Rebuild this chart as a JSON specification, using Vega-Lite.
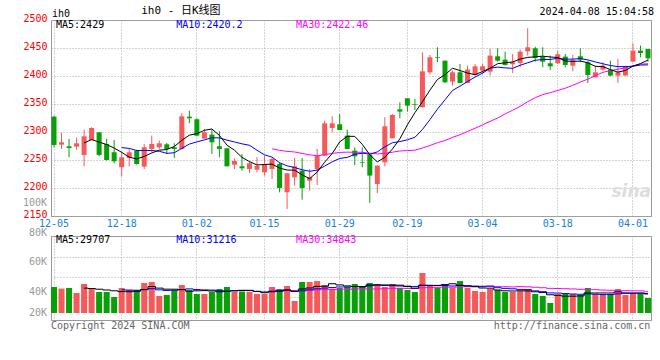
{
  "$schema": "https://vega.github.io/schema/vega-lite/v6.json",
  "autosize": {"type": "pad"},
  "padding": {"left": 22, "top": 4, "right": 0, "bottom": 0},
  "background": "#ffffff",
  "config": {
    "font": "DejaVu Sans Mono",
    "view": {"stroke": "#999999", "strokeWidth": 1},
    "axis": {"gridColor": "#aaaaaa", "gridDash": [1, 2], "gridWidth": 1, "labelFont": "DejaVu Sans Mono"}
  },
  "datasets": {
    "k": [
      {"d":"2023-12-05","o":2327.4,"h":2329,"l":2272.7,"c":2276.9,"v":40.8},
      {"d":"2023-12-06","o":2277.5,"h":2298.3,"l":2269.7,"c":2281.6,"v":38.2},
      {"d":"2023-12-07","o":2274.5,"h":2287.6,"l":2254.8,"c":2271.5,"v":39.2},
      {"d":"2023-12-08","o":2273.9,"h":2290,"l":2268,"c":2279.8,"v":31.3},
      {"d":"2023-12-11","o":2259,"h":2304.2,"l":2238.7,"c":2292.3,"v":45.5},
      {"d":"2023-12-12","o":2285.8,"h":2308.4,"l":2285,"c":2307.2,"v":37.6},
      {"d":"2023-12-13","o":2299.5,"h":2299.5,"l":2256.6,"c":2259,"v":32.9},
      {"d":"2023-12-14","o":2278.6,"h":2287.6,"l":2248.9,"c":2250,"v":32.9},
      {"d":"2023-12-15","o":2263.8,"h":2285.8,"l":2244.1,"c":2247.7,"v":25.1},
      {"d":"2023-12-18","o":2237,"h":2264.9,"l":2220.9,"c":2254.8,"v":39.2},
      {"d":"2023-12-19","o":2253.6,"h":2269.7,"l":2238.7,"c":2263.8,"v":36.5},
      {"d":"2023-12-20","o":2266.7,"h":2268.5,"l":2241.7,"c":2242.9,"v":36.1},
      {"d":"2023-12-21","o":2238.2,"h":2278.6,"l":2234,"c":2272.7,"v":47.1},
      {"d":"2023-12-22","o":2269.7,"h":2293.5,"l":2263.8,"c":2278.6,"v":48.6},
      {"d":"2023-12-25","o":2272.7,"h":2284.6,"l":2269.7,"c":2279.8,"v":26.6},
      {"d":"2023-12-26","o":2278,"h":2280.4,"l":2260.8,"c":2269.7,"v":28.3},
      {"d":"2023-12-27","o":2272.7,"h":2279.8,"l":2253.6,"c":2269.7,"v":35.6},
      {"d":"2023-12-28","o":2269.7,"h":2334,"l":2268.5,"c":2328,"v":43.9},
      {"d":"2023-12-29","o":2327.4,"h":2338.2,"l":2315.5,"c":2324.5,"v":36.1},
      {"d":"2024-01-02","o":2322.7,"h":2324.5,"l":2292.3,"c":2293.5,"v":29.8},
      {"d":"2024-01-03","o":2288.2,"h":2305.4,"l":2288.2,"c":2299.5,"v":29.8},
      {"d":"2024-01-04","o":2295.3,"h":2305.4,"l":2260.8,"c":2281.6,"v":32.9},
      {"d":"2024-01-05","o":2274.5,"h":2301.3,"l":2254.8,"c":2269.7,"v":37.6},
      {"d":"2024-01-08","o":2270.9,"h":2270.9,"l":2238.7,"c":2238.7,"v":40.8},
      {"d":"2024-01-09","o":2241.7,"h":2253,"l":2234,"c":2248.2,"v":32.9},
      {"d":"2024-01-10","o":2238.7,"h":2260.8,"l":2231,"c":2235.2,"v":33.5},
      {"d":"2024-01-11","o":2234,"h":2247.7,"l":2226.8,"c":2244.1,"v":32.9},
      {"d":"2024-01-12","o":2232.8,"h":2254.8,"l":2228,"c":2239.3,"v":29.8},
      {"d":"2024-01-15","o":2228,"h":2257.8,"l":2222,"c":2242.9,"v":29.8},
      {"d":"2024-01-16","o":2234,"h":2253.6,"l":2216.1,"c":2251.8,"v":40.8},
      {"d":"2024-01-17","o":2242.9,"h":2245.9,"l":2192.3,"c":2200,"v":37.6},
      {"d":"2024-01-18","o":2192.3,"h":2226.2,"l":2162.6,"c":2226.2,"v":42.3},
      {"d":"2024-01-19","o":2219.1,"h":2253.6,"l":2204.2,"c":2238.7,"v":18.8},
      {"d":"2024-01-22","o":2231,"h":2253.6,"l":2179.2,"c":2200,"v":48.6},
      {"d":"2024-01-23","o":2213.1,"h":2234,"l":2195.3,"c":2219.1,"v":48.6},
      {"d":"2024-01-24","o":2234,"h":2269.7,"l":2205.4,"c":2257.8,"v":50.1},
      {"d":"2024-01-25","o":2257.8,"h":2320.3,"l":2257.8,"c":2315.5,"v":43.9},
      {"d":"2024-01-26","o":2307.2,"h":2328,"l":2299.5,"c":2315.5,"v":38.2},
      {"d":"2024-01-29","o":2313.8,"h":2332.2,"l":2303.6,"c":2303.6,"v":39.2},
      {"d":"2024-01-30","o":2293.5,"h":2304.2,"l":2269.7,"c":2269.7,"v":40.8},
      {"d":"2024-01-31","o":2266.7,"h":2272.7,"l":2241.1,"c":2256.6,"v":45.5},
      {"d":"2024-02-01","o":2245.9,"h":2272.7,"l":2237,"c":2244.7,"v":40.8},
      {"d":"2024-02-02","o":2259.6,"h":2259.6,"l":2173.3,"c":2222.1,"v":47.1},
      {"d":"2024-02-05","o":2207.2,"h":2240,"l":2191.1,"c":2240,"v":45.5},
      {"d":"2024-02-06","o":2245.9,"h":2326.3,"l":2238.7,"c":2310.2,"v":40.8},
      {"d":"2024-02-07","o":2288.8,"h":2332.2,"l":2288.8,"c":2330.4,"v":45.5},
      {"d":"2024-02-08","o":2340.5,"h":2353,"l":2324.5,"c":2336.4,"v":39.2},
      {"d":"2024-02-19","o":2360.2,"h":2360.2,"l":2336.4,"c":2347.1,"v":36.1},
      {"d":"2024-02-20","o":2349.5,"h":2359,"l":2339.4,"c":2348.3,"v":32.9},
      {"d":"2024-02-21","o":2344.1,"h":2442.3,"l":2344.1,"c":2408.4,"v":62.7},
      {"d":"2024-02-22","o":2406.6,"h":2437.6,"l":2402.4,"c":2433.4,"v":43.9},
      {"d":"2024-02-23","o":2433.4,"h":2451.2,"l":2424.5,"c":2432.2,"v":39.2},
      {"d":"2024-02-26","o":2427.4,"h":2427.4,"l":2387,"c":2388.8,"v":43.9},
      {"d":"2024-02-27","o":2390,"h":2409.6,"l":2382.8,"c":2406.6,"v":39.2},
      {"d":"2024-02-28","o":2406.6,"h":2421.5,"l":2387.6,"c":2387.6,"v":50.1},
      {"d":"2024-02-29","o":2387.6,"h":2418.5,"l":2387.6,"c":2411.4,"v":39.2},
      {"d":"2024-03-01","o":2401.8,"h":2421.5,"l":2400.7,"c":2417.3,"v":34.5},
      {"d":"2024-03-04","o":2409.6,"h":2421.5,"l":2403.6,"c":2417.3,"v":32.9},
      {"d":"2024-03-05","o":2407.8,"h":2448.3,"l":2400.7,"c":2436.4,"v":37.6},
      {"d":"2024-03-06","o":2435.2,"h":2449.5,"l":2425.6,"c":2427.4,"v":36.1},
      {"d":"2024-03-07","o":2429.2,"h":2443.5,"l":2418.5,"c":2419.7,"v":32.9},
      {"d":"2024-03-08","o":2420.9,"h":2439.3,"l":2405.4,"c":2424.5,"v":32.9},
      {"d":"2024-03-11","o":2423.3,"h":2447.1,"l":2415.5,"c":2443.5,"v":34.5},
      {"d":"2024-03-12","o":2444.1,"h":2485.2,"l":2436.4,"c":2451.2,"v":36.1},
      {"d":"2024-03-13","o":2449.5,"h":2452.4,"l":2425.6,"c":2432.2,"v":29.8},
      {"d":"2024-03-14","o":2434.6,"h":2451.2,"l":2415.5,"c":2425.6,"v":26.6},
      {"d":"2024-03-15","o":2422.7,"h":2436.4,"l":2410.8,"c":2417.3,"v":15.7},
      {"d":"2024-03-18","o":2422.7,"h":2445.3,"l":2421.5,"c":2438.8,"v":29.8},
      {"d":"2024-03-19","o":2434.6,"h":2439.3,"l":2415.5,"c":2419.7,"v":29.8},
      {"d":"2024-03-20","o":2418.5,"h":2437.6,"l":2408.4,"c":2428.6,"v":29.8},
      {"d":"2024-03-21","o":2435.2,"h":2449.5,"l":2424.5,"c":2429.2,"v":28.3},
      {"d":"2024-03-22","o":2424.5,"h":2427.4,"l":2387.6,"c":2401.8,"v":39.2},
      {"d":"2024-03-25","o":2397.7,"h":2418.5,"l":2397.7,"c":2406.6,"v":29.8},
      {"d":"2024-03-26","o":2411.4,"h":2424.5,"l":2409.6,"c":2418.5,"v":29.8},
      {"d":"2024-03-27","o":2411.4,"h":2427.4,"l":2399.5,"c":2400.7,"v":29.8},
      {"d":"2024-03-28","o":2400.7,"h":2430.4,"l":2387.6,"c":2406.6,"v":37.6},
      {"d":"2024-03-29","o":2400.7,"h":2418.5,"l":2400.7,"c":2417.3,"v":28.3},
      {"d":"2024-04-01","o":2425.6,"h":2458.4,"l":2425.6,"c":2445.3,"v":29.8},
      {"d":"2024-04-02","o":2445.3,"h":2454.2,"l":2433.4,"c":2441.1,"v":29.8},
      {"d":"2024-04-03","o":2448.3,"h":2448.3,"l":2425.6,"c":2431.6,"v":23.5}
    ]
  },
  "data": {"name": "k"},
  "bounds": "flush",
  "spacing": 20,
  "vconcat": [
    {
      "width": 600,
      "height": 196,
      "encoding": {
        "x": {
          "field": "d", "type": "ordinal",
          "scale": {"paddingInner": 0.2, "paddingOuter": 0},
          "axis": {
            "values": ["2023-12-05","2023-12-18","2024-01-02","2024-01-15","2024-01-29","2024-02-19","2024-03-04","2024-03-18","2024-04-01"],
            "labelExpr": "substring(datum.value, 5, 10)",
            "labelColor": "#1a7fd4", "labelFontSize": 10, "labelPadding": 2, "labelAngle": 0,
            "ticks": false, "domain": false, "grid": true, "title": null
          }
        }
      },
      "layer": [
        {
          "mark": {"type": "rule", "strokeWidth": 1},
          "encoding": {
            "y": {
              "field": "l", "type": "quantitative",
              "scale": {"domain": [2150, 2500], "nice": false, "zero": false},
              "axis": {
                "values": [2150, 2200, 2250, 2300, 2350, 2400, 2450, 2500],
                "tickCount": 20,
                "format": "d", "labelOverlap": false, "labelBound": false,
                "labelColor": "#ff0000", "labelFontSize": 10, "labelPadding": 4, "labelOffset": -1.5,
                "ticks": false, "domain": false, "grid": true, "title": null
              }
            },
            "y2": {"field": "h"},
            "color": {"condition": {"test": "datum.c >= datum.o", "value": "#f65959"}, "value": "#07a007"}
          }
        },
        {
          "mark": {"type": "bar", "size": 5},
          "encoding": {
            "y": {"field": "o", "type": "quantitative"},
            "y2": {"field": "c"},
            "color": {"condition": {"test": "datum.c >= datum.o", "value": "#f65959"}, "value": "#07a007"}
          }
        },
        {
          "transform": [
            {"window": [{"op": "mean", "field": "c", "as": "m"}, {"op": "count", "as": "n"}], "frame": [-29, 0], "sort": [{"field": "d"}]},
            {"filter": "datum.n >= 30"}
          ],
          "mark": {"type": "line", "color": "#ff00ff", "strokeWidth": 1},
          "encoding": {"y": {"field": "m", "type": "quantitative"}}
        },
        {
          "transform": [
            {"window": [{"op": "mean", "field": "c", "as": "m"}, {"op": "count", "as": "n"}], "frame": [-9, 0], "sort": [{"field": "d"}]},
            {"filter": "datum.n >= 10"}
          ],
          "mark": {"type": "line", "color": "#0000ff", "strokeWidth": 1},
          "encoding": {"y": {"field": "m", "type": "quantitative"}}
        },
        {
          "transform": [
            {"window": [{"op": "mean", "field": "c", "as": "m"}, {"op": "count", "as": "n"}], "frame": [-4, 0], "sort": [{"field": "d"}]},
            {"filter": "datum.n >= 5"}
          ],
          "mark": {"type": "line", "color": "#000000", "strokeWidth": 1},
          "encoding": {"y": {"field": "m", "type": "quantitative"}}
        },
        {
          "data": {"values": [{}]},
          "mark": {"type": "text", "align": "left", "baseline": "middle", "fontSize": 10, "color": "#000000", "dx": 2},
          "encoding": {"x": {"datum": "2023-12-05", "type": "ordinal"}, "y": {"datum": 2490.2, "type": "quantitative"}, "text": {"value": "MA5:2429"}}
        },
        {
          "data": {"values": [{}]},
          "mark": {"type": "text", "align": "left", "baseline": "middle", "fontSize": 10, "color": "#0000ff", "dx": 2},
          "encoding": {"x": {"datum": "2023-12-27", "type": "ordinal"}, "y": {"datum": 2490.2, "type": "quantitative"}, "text": {"value": "MA10:2420.2"}}
        },
        {
          "data": {"values": [{}]},
          "mark": {"type": "text", "align": "left", "baseline": "middle", "fontSize": 10, "color": "#ff00ff", "dx": 1.5},
          "encoding": {"x": {"datum": "2024-01-19", "type": "ordinal"}, "y": {"datum": 2490.2, "type": "quantitative"}, "text": {"value": "MA30:2422.46"}}
        },
        {
          "data": {"values": [{}]},
          "mark": {"type": "text", "align": "left", "baseline": "middle", "fontSize": 10, "color": "#000000", "dx": -2},
          "encoding": {"x": {"datum": "2023-12-05", "type": "ordinal"}, "y": {"datum": 2510.7, "type": "quantitative"}, "text": {"value": "ih0"}}
        },
        {
          "data": {"values": [{}]},
          "mark": {"type": "text", "align": "left", "baseline": "middle", "fontSize": 11, "font": "DejaVu Sans Mono, Noto Sans CJK SC", "color": "#000000", "dx": -3},
          "encoding": {"x": {"datum": "2023-12-21", "type": "ordinal"}, "y": {"datum": 2515.2, "type": "quantitative"}, "text": {"value": "ih0 - 日K线图"}}
        },
        {
          "data": {"values": [{}]},
          "mark": {"type": "text", "align": "right", "baseline": "middle", "fontSize": 10, "color": "#000000", "dx": 6},
          "encoding": {"x": {"datum": "2024-04-03", "type": "ordinal"}, "y": {"datum": 2514.3, "type": "quantitative"}, "text": {"value": "2024-04-08 15:04:58"}}
        },
        {
          "data": {"values": [{}]},
          "mark": {"type": "text", "align": "right", "baseline": "middle", "fontSize": 10, "color": "#999999", "dx": -7},
          "encoding": {"x": {"datum": "2023-12-05", "type": "ordinal"}, "y": {"datum": 2173, "type": "quantitative"}, "text": {"value": "100K"}}
        },
        {
          "data": {"values": [{}]},
          "mark": {"type": "text", "align": "right", "baseline": "middle", "fontSize": 17, "fontStyle": "italic", "fontWeight": "bold", "font": "DejaVu Sans", "color": "#dddddd", "dx": 3},
          "encoding": {"x": {"datum": "2024-04-03", "type": "ordinal"}, "y": {"datum": 2192, "type": "quantitative"}, "text": {"value": "sina"}}
        }
      ]
    },
    {
      "width": 600,
      "height": 84,
      "encoding": {
        "x": {
          "field": "d", "type": "ordinal",
          "scale": {"paddingInner": 0.2, "paddingOuter": 0},
          "axis": {
            "values": ["2023-12-05","2023-12-18","2024-01-02","2024-01-15","2024-01-29","2024-02-19","2024-03-04","2024-03-18","2024-04-01"],
            "labels": false, "ticks": false, "domain": false, "grid": true, "title": null
          }
        }
      },
      "layer": [
        {
          "mark": {"type": "bar"},
          "encoding": {
            "y": {
              "field": "v", "type": "quantitative",
              "scale": {"domain": [-11, 120.7], "nice": false, "zero": false},
              "axis": {"values": [25.1, 56.4, 87.8], "tickCount": 10, "labels": false, "ticks": false, "domain": false, "grid": true, "title": null}
            },
            "y2": {"datum": 0},
            "color": {"condition": {"test": "datum.c >= datum.o", "value": "#f65959"}, "value": "#07a007"}
          }
        },
        {
          "transform": [
            {"window": [{"op": "mean", "field": "v", "as": "m"}, {"op": "count", "as": "n"}], "frame": [-29, 0], "sort": [{"field": "d"}]},
            {"filter": "datum.n >= 30"}
          ],
          "mark": {"type": "line", "color": "#ff00ff", "strokeWidth": 1, "interpolate": "step"},
          "encoding": {"y": {"field": "m", "type": "quantitative"}}
        },
        {
          "transform": [
            {"window": [{"op": "mean", "field": "v", "as": "m"}, {"op": "count", "as": "n"}], "frame": [-9, 0], "sort": [{"field": "d"}]},
            {"filter": "datum.n >= 10"}
          ],
          "mark": {"type": "line", "color": "#0000ff", "strokeWidth": 1, "interpolate": "step"},
          "encoding": {"y": {"field": "m", "type": "quantitative"}}
        },
        {
          "transform": [
            {"window": [{"op": "mean", "field": "v", "as": "m"}, {"op": "count", "as": "n"}], "frame": [-4, 0], "sort": [{"field": "d"}]},
            {"filter": "datum.n >= 5"}
          ],
          "mark": {"type": "line", "color": "#000000", "strokeWidth": 1, "interpolate": "step"},
          "encoding": {"y": {"field": "m", "type": "quantitative"}}
        },
        {
          "data": {"values": [{}]},
          "mark": {"type": "text", "align": "left", "baseline": "middle", "fontSize": 10, "color": "#000000", "dx": 2},
          "encoding": {"x": {"datum": "2023-12-05", "type": "ordinal"}, "y": {"datum": 113.9, "type": "quantitative"}, "text": {"value": "MA5:29707"}}
        },
        {
          "data": {"values": [{}]},
          "mark": {"type": "text", "align": "left", "baseline": "middle", "fontSize": 10, "color": "#0000ff", "dx": 2},
          "encoding": {"x": {"datum": "2023-12-27", "type": "ordinal"}, "y": {"datum": 113.9, "type": "quantitative"}, "text": {"value": "MA10:31216"}}
        },
        {
          "data": {"values": [{}]},
          "mark": {"type": "text", "align": "left", "baseline": "middle", "fontSize": 10, "color": "#ff00ff", "dx": 1.5},
          "encoding": {"x": {"datum": "2024-01-19", "type": "ordinal"}, "y": {"datum": 113.9, "type": "quantitative"}, "text": {"value": "MA30:34843"}}
        },
        {
          "data": {"values": [{}]},
          "mark": {"type": "text", "align": "right", "baseline": "middle", "fontSize": 10, "color": "#999999", "dx": -7},
          "encoding": {"x": {"datum": "2023-12-05", "type": "ordinal"}, "y": {"datum": 125.9, "type": "quantitative"}, "text": {"value": "80K"}}
        },
        {
          "data": {"values": [{}]},
          "mark": {"type": "text", "align": "right", "baseline": "middle", "fontSize": 10, "color": "#999999", "dx": -7},
          "encoding": {"x": {"datum": "2023-12-05", "type": "ordinal"}, "y": {"datum": 79.9, "type": "quantitative"}, "text": {"value": "60K"}}
        },
        {
          "data": {"values": [{}]},
          "mark": {"type": "text", "align": "right", "baseline": "middle", "fontSize": 10, "color": "#999999", "dx": -7},
          "encoding": {"x": {"datum": "2023-12-05", "type": "ordinal"}, "y": {"datum": 32.9, "type": "quantitative"}, "text": {"value": "40K"}}
        },
        {
          "data": {"values": [{}]},
          "mark": {"type": "text", "align": "right", "baseline": "middle", "fontSize": 10, "color": "#999999", "dx": -7},
          "encoding": {"x": {"datum": "2023-12-05", "type": "ordinal"}, "y": {"datum": 0, "type": "quantitative"}, "text": {"value": "20K"}}
        },
        {
          "data": {"values": [{}]},
          "mark": {"type": "text", "align": "left", "baseline": "middle", "fontSize": 10, "color": "#666666", "dx": -3},
          "encoding": {"x": {"datum": "2023-12-05", "type": "ordinal"}, "y": {"datum": -20.4, "type": "quantitative"}, "text": {"value": "Copyright 2024 SINA.COM"}}
        },
        {
          "data": {"values": [{}]},
          "mark": {"type": "text", "align": "right", "baseline": "middle", "fontSize": 10, "color": "#666666", "dx": 2.3},
          "encoding": {"x": {"datum": "2024-04-03", "type": "ordinal"}, "y": {"datum": -20.4, "type": "quantitative"}, "text": {"value": "http://finance.sina.com.cn"}}
        }
      ]
    }
  ]
}
